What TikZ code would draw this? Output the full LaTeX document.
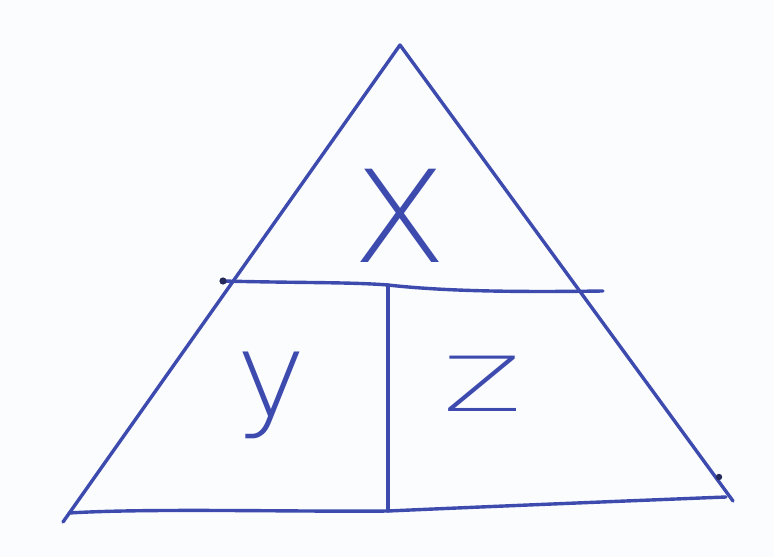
\documentclass[tikz,border=0pt]{standalone}
\usepackage{fontspec}
\setmainfont{DejaVu Sans ExtraLight}
\definecolor{ink}{HTML}{3D4AAE}
\definecolor{inkdark}{HTML}{252A5A}
\definecolor{paper}{HTML}{FBFCFE}
\begin{document}
\begin{tikzpicture}[x=1pt,y=-1pt,
  pen/.style={draw=ink,line width=3.4pt,line cap=round,line join=round},
  letter/.style={text=ink,inner sep=0pt}]
\fill[paper] (0,0) rectangle (774,557);
\useasboundingbox (0,0) rectangle (774,557);
\coordinate (apex) at (400,45);
\coordinate (bl) at (63,522);
\coordinate (br) at (733,501);
\coordinate (bls) at (69,513);
\coordinate (bre) at (726,497);
\coordinate (hl) at (223,281);
\coordinate (hm) at (388,285);
\coordinate (hr) at (603,291);
\coordinate (vb) at (388,511);
\draw[pen] (bl) -- (apex) -- (br);
\draw[pen] (bls) .. controls (150,508) and (300,512) .. (vb) .. controls (500,506) and (650,500) .. (bre);
\draw[pen] (hl) .. controls (300,283) and (350,282) .. (hm) .. controls (450,292) and (530,292) .. (hr);
\draw[pen] (hm) -- (vb);
\fill[inkdark] (hl) circle (3.6);
\fill[inkdark] (719,477) circle (3.2);
\node[letter,font=\fontsize{128}{128}\selectfont,xscale=1.08] (x) at (400,216) {X};
\node[letter,font=\fontsize{118}{118}\selectfont] (y) at (271,395) {y};
\node[letter,font=\fontsize{76}{76}\selectfont,xscale=1.5] (z) at (483,384) {Z};
\end{tikzpicture}
\end{document}
